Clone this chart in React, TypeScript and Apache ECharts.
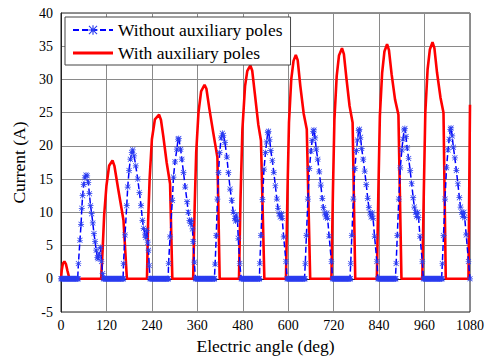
import React, { useEffect, useRef } from "react";
import * as echarts from "echarts";

// ---------- data ----------
const xTicks = [0, 120, 240, 360, 480, 600, 720, 840, 960, 1080];
const yTicks = [-5, 0, 5, 10, 15, 20, 25, 30, 35, 40];

const seriesNames = ["Without auxiliary poles", "With auxiliary poles"];

// With auxiliary poles (red, solid): [electric angle (deg), current (A)]
const withPoles: number[][] = [
  [0, 0], [2, 1.3], [5, 2.3], [9, 2.6], [13, 2.2], [17, 1.2], [21, 0.3], [24, 0],
  [106, 0], [110, 4.5], [114, 9.6], [120, 14], [127, 17], [136, 17.8], [141, 17.0], [151, 13.5], [160, 10.5], [165, 8.8], [174, 0],
  [227, 0], [230, 8.5], [234, 15], [240, 21], [248, 24], [259, 24.7], [264, 23.9], [270, 21.5], [279, 17.5], [288, 14.3], [294, 0],
  [349, 0], [353, 11], [357, 19], [363, 25], [370, 28.2], [379, 29.2], [384, 28.6], [392, 25.5], [402, 22], [413, 18.3], [419, 0],
  [470, 0], [474, 12], [479, 22.5], [486, 29], [492, 31.3], [500, 32.1], [505, 31.3], [512, 27.8], [521, 23.2], [528, 20.8], [537, 0],
  [594, 0], [598, 13], [602, 23.5], [608, 30], [614, 32.8], [620, 33.7], [625, 32.9], [632, 29], [641, 24.8], [649, 22.5], [658, 0],
  [714, 0], [718, 13], [722, 24], [728, 30.5], [734, 33.6], [742, 34.7], [747, 33.8], [754, 30], [762, 26], [770, 23.5], [777, 0],
  [834, 0], [838, 13], [842, 24.5], [848, 31], [854, 34.2], [861, 35.3], [866, 34.4], [873, 30.8], [882, 27], [891, 24.7], [899, 0],
  [954, 0], [958, 13], [962, 25], [968, 31.5], [974, 34.5], [981, 35.6], [986, 34.7], [993, 31], [1002, 27.3], [1010, 25], [1016, 0],
  [1076, 0], [1079, 20], [1080, 26.2],
];

// Without auxiliary poles (blue, dashed with stars): non-zero pulses
const withoutPolesPulses: number[][] = [
  [46, 2.3], [50, 5.8], [53, 8.2], [55, 10.6], [57, 12.5], [60, 14.2], [63, 15.2], [66, 15.6], [69, 15.5], [72, 14.5], [75, 12.8], [78, 11], [81, 9.8], [84, 8.4], [87, 6.8], [90, 5.6], [93, 4.3], [96, 3.2], [98, 3.0], [101, 3.7], [104, 4.7], [107, 2.6], [110, 0.8],
  [165, 2.3], [169, 6.6], [173.6, 11.0], [176.2, 13.8], [179.7, 16.3], [183.2, 18], [186.8, 19.0], [189.4, 19.4], [193, 18.5], [197.4, 17.0], [202.7, 15], [207, 13], [211.4, 11], [215, 8.8], [218, 7.6], [222, 6.6], [224, 6.2], [226.4, 7.3], [229, 5.5], [231, 4.3], [233, 2],
  [284, 2.3], [288, 6.3], [294, 11.8], [297, 15.3], [301, 17.6], [306, 19.5], [309, 21], [311, 21.1], [316, 19.5], [319, 18], [323.5, 16], [328, 13.8], [333, 11.6], [336, 10], [339, 8.8], [342, 8.3], [344, 8.8], [347, 7.5], [349, 5.6], [352, 2.5],
  [407, 2.2], [410, 6.5], [413, 12], [416, 16], [419, 19], [423, 21.2], [426, 21.9], [429, 21.6], [433, 20.5], [438, 18.3], [442, 16], [446.6, 13.5], [451, 11.8], [455, 10], [459, 9.1], [461, 8.7], [463, 9.6], [466, 8.8], [468, 6.1], [472, 2.3],
  [525, 2.3], [528, 6.5], [532, 11.9], [536, 16.5], [540, 19], [543, 20.6], [546, 22.0], [548, 22.2], [551, 21], [554, 19.3], [558, 17.8], [562, 16], [566, 14], [570, 12], [573, 10.6], [576, 9.8], [579, 9.3], [582, 9.8], [584, 9.1], [588, 6.3], [594, 2.6],
  [645, 2.3], [648, 6.5], [652, 12], [656, 16.6], [660, 19.2], [663, 20.8], [666, 22.2], [668, 22.4], [671, 21.2], [674, 19.5], [678, 18], [682, 16.1], [686, 14.1], [690, 12.1], [693, 10.7], [696, 9.9], [699, 9.3], [702, 9.9], [704, 9.1], [708, 6.4], [714, 2.6],
  [765, 2.3], [768, 6.5], [772, 12], [776, 16.6], [780, 19.3], [783, 20.9], [786, 22.3], [788, 22.5], [791, 21.3], [794, 19.6], [798, 18], [802, 16.2], [806, 14.2], [810, 12.1], [813, 10.7], [816, 9.9], [819, 9.3], [822, 9.9], [824, 9.1], [828, 6.4], [834, 2.6],
  [885, 2.3], [888, 6.5], [892, 12], [896, 16.7], [900, 19.4], [903, 21], [906, 22.4], [908, 22.6], [911, 21.4], [914, 19.7], [918, 18.1], [922, 16.3], [926, 14.3], [930, 12.2], [933, 10.8], [936, 10], [939, 9.4], [942, 10], [944, 9.2], [948, 6.4], [954, 2.6],
  [1007, 2.3], [1010, 6.5], [1014, 12], [1018, 16.7], [1022, 19.4], [1025, 21], [1028, 22.5], [1030, 22.7], [1033, 21.5], [1036, 19.8], [1040, 18.2], [1044, 16.3], [1048, 14.3], [1052, 12.2], [1055, 10.8], [1058, 10], [1061, 9.4], [1064, 10], [1066, 9.2], [1070, 6.6], [1076, 2.6], [1080, 0],
];

// Without auxiliary poles: intervals (deg) where the current sits at 0 (densely sampled in the source)
const withoutPolesZeroRuns: number[][] = [
  [0, 45], [112, 164], [235, 283], [355, 405], [476, 524], [597, 644], [717, 764], [837, 884], [957, 1006],
];
const zeroSampleStep = 2;

const STAR =
  "path://M4.4,0H5.6V10H4.4Z M0,4.4H10V5.6H0Z M1.2,0.4L9.6,8.8L8.8,9.6L0.4,1.2Z M8.8,0.4L9.6,1.2L1.2,9.6L0.4,8.8Z";
const BAR = "path://M0,0H40V3H0Z";

function buildWithout(): number[][] {
  const pts: number[][] = withoutPolesPulses.map((p) => [p[0], p[1]]);
  for (const [a, b] of withoutPolesZeroRuns) {
    for (let x = a; x <= b; x += zeroSampleStep) pts.push([x, 0]);
    pts.push([b, 0]);
  }
  pts.sort((p, q) => p[0] - q[0]);
  return pts;
}

const FONT = "Times New Roman, Liberation Serif, serif";

export default function App() {
  const ref = useRef<HTMLDivElement>(null);
  useEffect(() => {
    document.body.style.margin = "0";
    if (!ref.current) return;
    const chart = echarts.init(ref.current, undefined, { renderer: "svg" });
    chart.setOption({
      animation: false,
      backgroundColor: "#fff",
      textStyle: { fontFamily: FONT },
      grid: {
        left: 61,
        right: 21,
        top: 13,
        bottom: 46,
        show: true,
        borderColor: "#222",
        borderWidth: 1,
        backgroundColor: "transparent",
      },
      legend: {
        data: [
          { name: seriesNames[0] },
          { name: seriesNames[1], icon: BAR },
        ],
        orient: "vertical",
        left: 65,
        top: 17,
        itemWidth: 40,
        itemHeight: 12,
        itemGap: 5,
        padding: [4, 8, 3, 7],
        backgroundColor: "#fff",
        borderColor: "#444",
        borderWidth: 1,
        borderRadius: 0,
        textStyle: { fontFamily: FONT, fontSize: 17.5, color: "#000" },
      },
      xAxis: {
        type: "value",
        min: xTicks[0],
        max: xTicks[xTicks.length - 1],
        interval: xTicks[1] - xTicks[0],
        name: "Electric angle (deg)",
        nameLocation: "middle",
        nameGap: 25,
        nameTextStyle: { fontFamily: FONT, fontSize: 17.5, color: "#000" },
        axisLine: { show: true, lineStyle: { color: "#222", width: 1 } },
        axisTick: { show: false },
        axisLabel: {
          fontFamily: FONT,
          fontSize: 14,
          color: "#000",
          margin: 6,
          formatter: (v: number) => String(v),
        },
        splitLine: { show: true, lineStyle: { color: "#8a8a8a", width: 1 } },
      },
      yAxis: {
        type: "value",
        min: yTicks[0],
        max: yTicks[yTicks.length - 1],
        interval: yTicks[1] - yTicks[0],
        name: "Current (A)",
        nameLocation: "middle",
        nameGap: 26,
        nameTextStyle: { fontFamily: FONT, fontSize: 17.5, color: "#000" },
        axisLine: { show: true, lineStyle: { color: "#222", width: 1 } },
        axisTick: { show: false },
        axisLabel: {
          fontFamily: FONT,
          fontSize: 14,
          color: "#000",
          margin: 8,
          formatter: (v: number) => String(v),
        },
        splitLine: { show: true, lineStyle: { color: "#8a8a8a", width: 1 } },
      },
      series: [
        {
          name: seriesNames[0],
          type: "line",
          data: buildWithout(),
          z: 3,
          showAllSymbol: true,
          symbol: STAR,
          symbolSize: 6,
          itemStyle: { color: "#2a3cf0" },
          lineStyle: { color: "#0000ff", width: 1.5, type: [6, 3] },
        },
        {
          name: seriesNames[1],
          type: "line",
          data: withPoles,
          z: 2,
          showSymbol: false,
          symbol: "none",
          itemStyle: { color: "#ff0000" },
          lineStyle: { color: "#ff0000", width: 2.6 },
        },
      ],
    });
    return () => chart.dispose();
  }, []);
  return <div ref={ref} style={{ width: 491, height: 360 }} />;
}
